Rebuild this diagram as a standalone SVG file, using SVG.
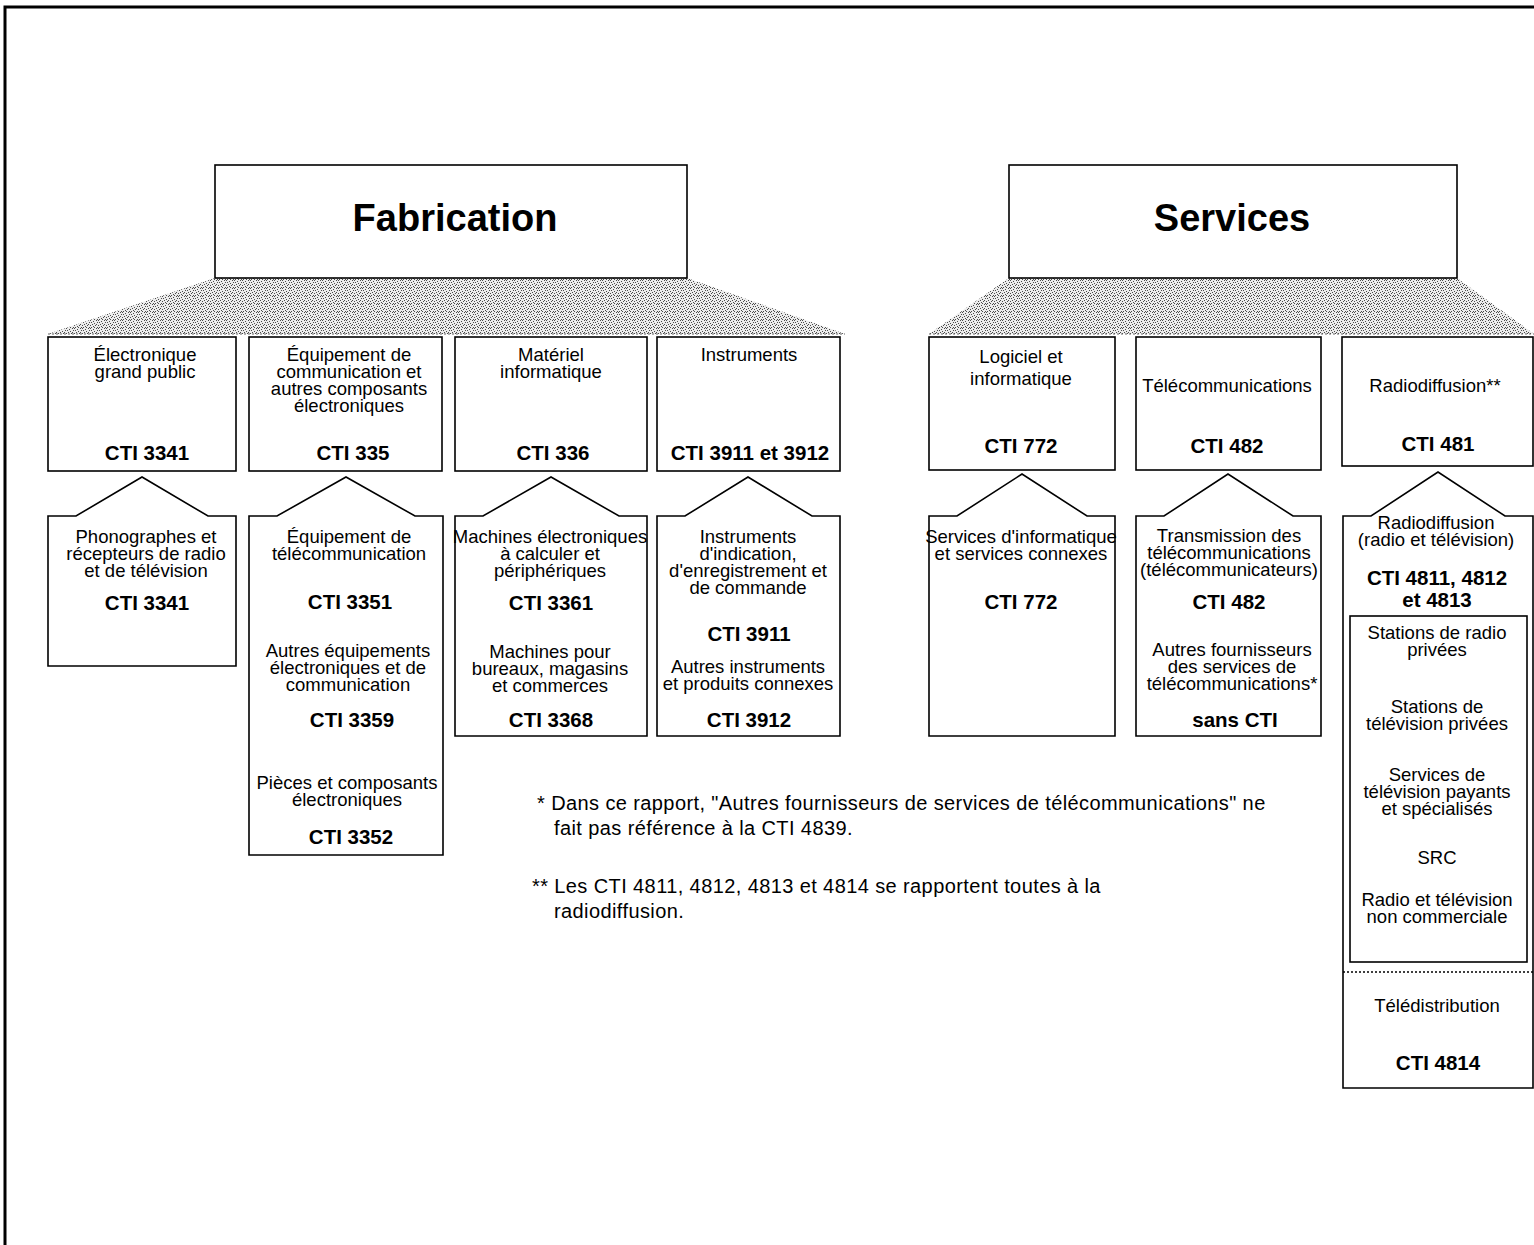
<svg xmlns="http://www.w3.org/2000/svg" width="1534" height="1245" viewBox="0 0 1534 1245">
  <style>
    .box { fill: #fff; stroke: #000; stroke-width: 1.6; }
    .t { font-family: "Liberation Sans", Arial, sans-serif; font-size: 18.5px; text-anchor: middle; fill: #000; }
    .b { font-family: "Liberation Sans", Arial, sans-serif; font-size: 20.5px; font-weight: bold; text-anchor: middle; fill: #000; }
    .h { font-family: "Liberation Sans", Arial, sans-serif; font-size: 38px; font-weight: bold; text-anchor: middle; fill: #000; }
    .note { font-family: "Liberation Sans", Arial, sans-serif; font-size: 20px; letter-spacing: 0.4px; fill: #000; }
    .fan { fill: url(#stipple); stroke: none; }
  </style>
  <defs>
    <!-- speckled screen used for the fans below each sector header -->
    <pattern id="stipple" width="8" height="8" patternUnits="userSpaceOnUse">
      <rect width="8" height="8" fill="#ececec"/>
      <g fill="#4a4a4a">
        <rect x="0" y="0" width="1" height="1"/>
        <rect x="2" y="0" width="1" height="1"/>
        <rect x="5" y="1" width="1" height="1"/>
        <rect x="1" y="2" width="1" height="1"/>
        <rect x="3" y="2" width="1" height="1"/>
        <rect x="6" y="3" width="1" height="1"/>
        <rect x="0" y="4" width="1" height="1"/>
        <rect x="4" y="4" width="1" height="1"/>
        <rect x="2" y="5" width="1" height="1"/>
        <rect x="7" y="5" width="1" height="1"/>
        <rect x="5" y="6" width="1" height="1"/>
        <rect x="1" y="7" width="1" height="1"/>
        <rect x="3" y="7" width="1" height="1"/>
        <rect x="6" y="7" width="1" height="1"/>
      </g>
    </pattern>
  </defs>

  <!-- page frame (left and top rules) -->
  <path d="M5,1245 V7 H1534" fill="none" stroke="#000" stroke-width="3"/>

  <!-- connectors: shaded fans from each sector to its branches -->
  <g id="connectors">
    <polygon class="fan" points="215,278 687,278 845,334 48,334"/>
    <line x1="48" y1="334" x2="845" y2="334" stroke="#666" stroke-width="1" stroke-dasharray="2,2"/>
    <polygon class="fan" points="1009,278 1457,278 1534,334 929,334"/>
    <line x1="929" y1="334" x2="1534" y2="334" stroke="#666" stroke-width="1" stroke-dasharray="2,2"/>
  </g>

  <!-- sector headers -->
  <g id="fabrication">
    <rect class="box" x="215" y="165" width="472" height="113"/>
    <text class="h" x="455" y="231">Fabrication</text>
  </g>
  <g id="services">
    <rect class="box" x="1009" y="165" width="448" height="113"/>
    <text class="h" x="1232" y="231">Services</text>
  </g>

  <!-- manufacturing branches -->
  <g id="electronique-grand-public">
    <rect class="box" x="48" y="337" width="188" height="134"/>
    <text class="t" x="145" y="361">Électronique<tspan x="145" dy="17">grand public</tspan></text>
    <text class="b" x="147" y="460">CTI 3341</text>
  </g>
  <g id="equipement-communication">
    <rect class="box" x="249" y="337" width="193" height="134"/>
    <text class="t" x="349" y="361">Équipement de<tspan x="349" dy="17">communication et</tspan><tspan x="349" dy="17">autres composants</tspan><tspan x="349" dy="17">électroniques</tspan></text>
    <text class="b" x="353" y="460">CTI 335</text>
  </g>
  <g id="materiel-informatique">
    <rect class="box" x="455" y="337" width="192" height="134"/>
    <text class="t" x="551" y="361">Matériel<tspan x="551" dy="17">informatique</tspan></text>
    <text class="b" x="553" y="460">CTI 336</text>
  </g>
  <g id="instruments">
    <rect class="box" x="657" y="337" width="183" height="134"/>
    <text class="t" x="749" y="361">Instruments</text>
    <text class="b" x="750" y="460">CTI 3911 et 3912</text>
  </g>

  <!-- manufacturing sub-branches -->
  <g id="phonographes">
    <path class="box" d="M48,516 H76 L142,477 L208,516 H236 V666 H48 Z"/>
    <text class="t" x="146" y="543">Phonographes et<tspan x="146" dy="17">récepteurs de radio</tspan><tspan x="146" dy="17">et de télévision</tspan></text>
    <text class="b" x="147" y="610">CTI 3341</text>
  </g>
  <g id="equipement-telecom">
    <path class="box" d="M249,516 H277 L346,477 L415,516 H443 V855 H249 Z"/>
    <text class="t" x="349" y="543">Équipement de<tspan x="349" dy="17">télécommunication</tspan></text>
    <text class="b" x="350" y="609">CTI 3351</text>
    <text class="t" x="348" y="657">Autres équipements<tspan x="348" dy="17">électroniques et de</tspan><tspan x="348" dy="17">communication</tspan></text>
    <text class="b" x="352" y="727">CTI 3359</text>
    <text class="t" x="347" y="789">Pièces et composants<tspan x="347" dy="17">électroniques</tspan></text>
    <text class="b" x="351" y="844">CTI 3352</text>
  </g>
  <g id="machines">
    <path class="box" d="M455,516 H483 L551,477 L619,516 H647 V736 H455 Z"/>
    <text class="t" x="550" y="543">Machines électroniques<tspan x="550" dy="17">à calculer et</tspan><tspan x="550" dy="17">périphériques</tspan></text>
    <text class="b" x="551" y="610">CTI 3361</text>
    <text class="t" x="550" y="658">Machines pour<tspan x="550" dy="17">bureaux, magasins</tspan><tspan x="550" dy="17">et commerces</tspan></text>
    <text class="b" x="551" y="727">CTI 3368</text>
  </g>
  <g id="instruments-detail">
    <path class="box" d="M657,516 H685 L748,477 L812,516 H840 V736 H657 Z"/>
    <text class="t" x="748" y="543">Instruments<tspan x="748" dy="17">d'indication,</tspan><tspan x="748" dy="17">d'enregistrement et</tspan><tspan x="748" dy="17">de commande</tspan></text>
    <text class="b" x="749" y="641">CTI 3911</text>
    <text class="t" x="748" y="673">Autres instruments<tspan x="748" dy="17">et produits connexes</tspan></text>
    <text class="b" x="749" y="727">CTI 3912</text>
  </g>

  <!-- services branches -->
  <g id="logiciel">
    <rect class="box" x="929" y="337" width="186" height="133"/>
    <text class="t" x="1021" y="363">Logiciel et<tspan x="1021" dy="22">informatique</tspan></text>
    <text class="b" x="1021" y="453">CTI 772</text>
  </g>
  <g id="telecommunications">
    <rect class="box" x="1136" y="337" width="185" height="133"/>
    <text class="t" x="1227" y="392">Télécommunications</text>
    <text class="b" x="1227" y="453">CTI 482</text>
  </g>
  <g id="radiodiffusion">
    <rect class="box" x="1342" y="337" width="191" height="129"/>
    <text class="t" x="1435" y="392">Radiodiffusion**</text>
    <text class="b" x="1438" y="451">CTI 481</text>
  </g>

  <!-- services sub-branches -->
  <g id="services-informatique">
    <path class="box" d="M929,516 H957 L1022,474 L1087,516 H1115 V736 H929 Z"/>
    <text class="t" x="1021" y="543">Services d'informatique<tspan x="1021" dy="17">et services connexes</tspan></text>
    <text class="b" x="1021" y="609">CTI 772</text>
  </g>
  <g id="transmission">
    <path class="box" d="M1136,516 H1164 L1228,474 L1293,516 H1321 V736 H1136 Z"/>
    <text class="t" x="1229" y="542">Transmission des<tspan x="1229" dy="17">télécommunications</tspan><tspan x="1229" dy="17">(télécommunicateurs)</tspan></text>
    <text class="b" x="1229" y="609">CTI 482</text>
    <text class="t" x="1232" y="656">Autres fournisseurs<tspan x="1232" dy="17">des services de</tspan><tspan x="1232" dy="17">télécommunications*</tspan></text>
    <text class="b" x="1235" y="727">sans CTI</text>
  </g>
  <g id="radio-television">
    <path class="box" d="M1343,516 H1371 L1438,472 L1505,516 H1533 V1088 H1343 Z"/>
    <text class="t" x="1436" y="529">Radiodiffusion<tspan x="1436" dy="17">(radio et télévision)</tspan></text>
    <text class="b" x="1437" y="585">CTI 4811, 4812<tspan x="1437" dy="22">et 4813</tspan></text>
    <rect class="box" x="1350" y="616" width="177" height="346"/>
    <text class="t" x="1437" y="639">Stations de radio<tspan x="1437" dy="17">privées</tspan></text>
    <text class="t" x="1437" y="713">Stations de<tspan x="1437" dy="17">télévision privées</tspan></text>
    <text class="t" x="1437" y="781">Services de<tspan x="1437" dy="17">télévision payants</tspan><tspan x="1437" dy="17">et spécialisés</tspan></text>
    <text class="t" x="1437" y="864">SRC</text>
    <text class="t" x="1437" y="906">Radio et télévision<tspan x="1437" dy="17">non commerciale</tspan></text>
    <line x1="1343" y1="972" x2="1533" y2="972" stroke="#000" stroke-width="1.4" stroke-dasharray="2,2"/>
    <text class="t" x="1437" y="1012">Télédistribution</text>
    <text class="b" x="1438" y="1070">CTI 4814</text>
  </g>

  <!-- footnotes -->
  <g id="notes">
    <text class="note" x="537" y="810">* Dans ce rapport, "Autres fournisseurs de services de télécommunications" ne<tspan x="554" dy="25">fait pas référence à la CTI 4839.</tspan></text>
    <text class="note" x="532" y="893">** Les CTI 4811, 4812, 4813 et 4814 se rapportent toutes à la<tspan x="554" dy="25">radiodiffusion.</tspan></text>
  </g>
</svg>
